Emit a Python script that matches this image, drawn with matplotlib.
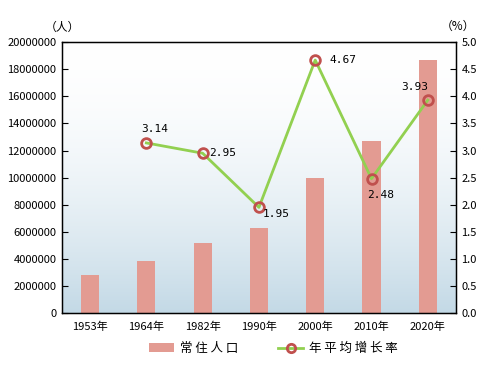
import matplotlib
matplotlib.use("Agg")
import matplotlib.pyplot as plt
import numpy as np
from matplotlib.patches import Patch
from matplotlib.lines import Line2D

plt.rcParams['font.family'] = ['Noto Sans CJK SC', 'DejaVu Sans']

years = ['1953年', '1964年', '1982年', '1990年', '2000年', '2010年', '2020年']
population = [2790000, 3840000, 5180000, 6300000, 9940000, 12700000, 18680000]
rate_years_idx = [1, 2, 3, 4, 5, 6]
rates = [3.14, 2.95, 1.95, 4.67, 2.48, 3.93]
rate_labels = ['3.14', '2.95', '1.95', '4.67', '2.48', '3.93']

bar_color = '#e39b92'
line_color = '#92d050'
marker_edge = '#c0504d'

fig = plt.figure(figsize=(4.84, 3.70), dpi=100)
ax = fig.add_axes([0.128, 0.154, 0.814, 0.732])

x = np.arange(len(years))
ax.set_xlim(-0.5, len(years) - 0.5)

# gradient background (white at top, light blue at bottom)
grad = np.linspace(0, 1, 256).reshape(-1, 1)
top = np.array([1.0, 1.0, 1.0])
bot = np.array([0xc3, 0xd9, 0xe6]) / 255.0
img = top + (bot - top) * grad[:, :, None] ** 1.8
ax.imshow(img, extent=[-0.5, len(years) - 0.5, 0, 20000000], aspect='auto', zorder=0,
          origin='upper')
ax.set_ylim(0, 20000000)

ax.bar(x, population, width=0.32, color=bar_color, zorder=2)
ax.set_yticks(np.arange(0, 20000001, 2000000))
ax.set_yticklabels([str(v) for v in range(0, 20000001, 2000000)], fontsize=8)
ax.set_xticks(x)
ax.set_xticklabels(years, fontsize=8)
ax.tick_params(axis='x', length=0, pad=6)
ax.tick_params(axis='y', direction='in', length=4, pad=4)
for s in ax.spines.values():
    s.set_linewidth(1.0)
    s.set_color('black')

ax2 = ax.twinx()
ax2.set_ylim(0, 5.0)
ax2.set_yticks(np.arange(0, 5.01, 0.5))
ax2.set_yticklabels([f'{v:.1f}' for v in np.arange(0, 5.01, 0.5)], fontsize=8)
ax2.tick_params(axis='y', direction='in', length=4, pad=4)
ax2.plot(rate_years_idx, rates, color=line_color, lw=2, zorder=3,
         marker='o', markersize=7, markerfacecolor='none',
         markeredgecolor=marker_edge, markeredgewidth=2)

offsets = [(-0.1, 0.26, 'left'), (0.12, 0.0, 'left'), (0.07, -0.12, 'left'),
           (0.25, 0.0, 'left'), (-0.08, -0.3, 'left'), (0.0, 0.25, 'right')]
for xi, r, lab, (dx, dy, ha) in zip(rate_years_idx, rates, rate_labels, offsets):
    ax2.text(xi + dx, r + dy, lab, fontsize=8, ha=ha, va='center',
             family=['DejaVu Sans Mono'])

fig.text(0.128, 0.927, '（人）', fontsize=8.5, ha='center', va='center')
fig.text(0.946, 0.93, '（%）', fontsize=8.5, ha='center', va='center')

handles = [Patch(facecolor=bar_color, edgecolor='none'),
           Line2D([0], [0], color=line_color, lw=2, marker='o', markersize=6,
                  markerfacecolor='none', markeredgecolor=marker_edge, markeredgewidth=2)]
fig.legend(handles, ['常 住 人 口', '年 平 均 增 长 率'], loc='lower center',
           bbox_to_anchor=(0.565, 0.01), ncol=2, frameon=False, fontsize=9,
           handlelength=2.0, handletextpad=0.5, columnspacing=3.2)

fig.savefig('out.png', dpi=100)
